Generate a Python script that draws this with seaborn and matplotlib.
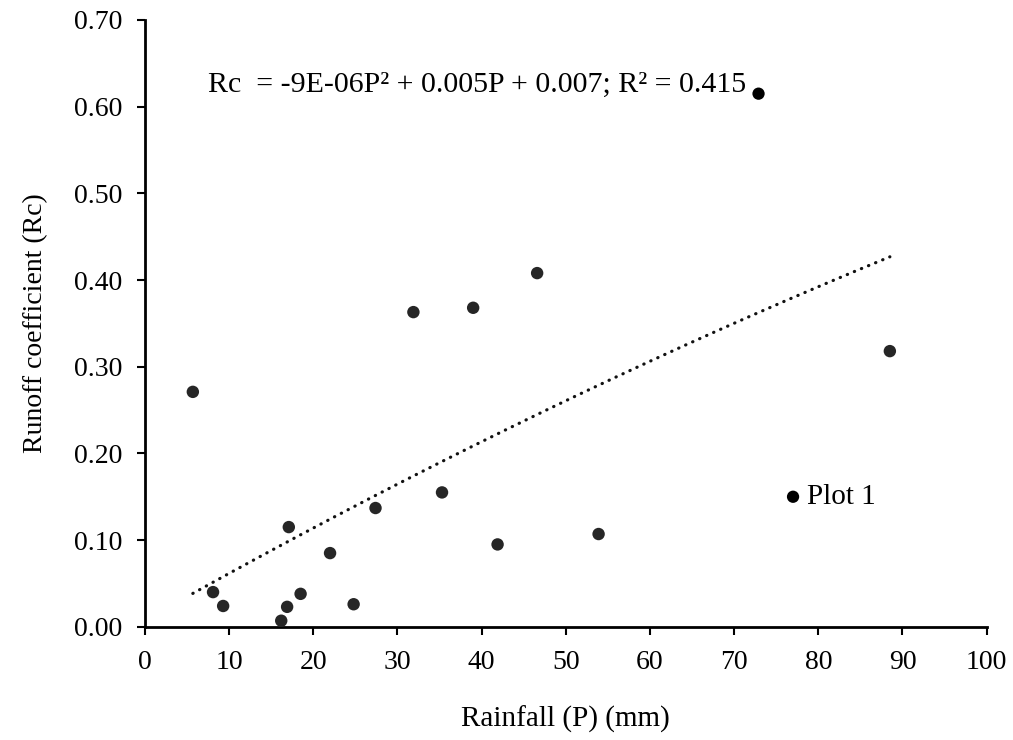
import numpy as np
import pandas as pd
import matplotlib
matplotlib.use("Agg")
import matplotlib.pyplot as plt
import seaborn as sns

# Event rainfall (mm) and runoff coefficient
rainfall = [5.7, 8.1, 9.3, 16.2, 16.9, 17.1, 18.5, 22.0, 24.8, 27.4,
            31.9, 35.3, 39.0, 41.9, 46.6, 53.9, 72.9, 77.0, 88.5]
runoff_coef = [0.271, 0.040, 0.024, 0.007, 0.023, 0.115, 0.038, 0.085, 0.026, 0.137,
               0.363, 0.155, 0.368, 0.095, 0.408, 0.107, 0.615, 0.150, 0.318]

# Polynomial trendline coefficients (P^2, P, constant)
trend_coef = [-8.5e-6, 0.00549, 0.00749]

x_ticks = [0, 10, 20, 30, 40, 50, 60, 70, 80, 90, 100]
y_ticks = [0.0, 0.1, 0.2, 0.3, 0.4, 0.5, 0.6, 0.7]

equation_text = "Rc  = -9E-06P\u00b2 + 0.005P + 0.007; R\u00b2 = 0.415"
plot_label = "Plot 1"
plot_label_index = 17
highlight_index = 16

sns.set_theme(style="ticks")
plt.rcParams["font.family"] = ["Liberation Serif", "DejaVu Serif"]

df = pd.DataFrame({"P": rainfall, "Rc": runoff_coef})

fig = plt.figure(figsize=(10.13, 7.4), dpi=100)
ax = fig.add_axes([0.143, 0.153, 0.831, 0.820])

main = df.drop(index=[highlight_index, plot_label_index])
sns.scatterplot(data=main, x="P", y="Rc", ax=ax, s=80, color="#262626",
                edgecolor="none", zorder=3)
sns.scatterplot(data=df.iloc[[highlight_index, plot_label_index]], x="P", y="Rc",
                ax=ax, s=78, color="#000000", edgecolor="none", zorder=3)

# Second-order polynomial trendline over the observed rainfall range
xs = np.linspace(df["P"].min(), df["P"].max(), 200)
ax.plot(xs, np.polyval(trend_coef, xs), linestyle=(0, (0.1, 2.3)), color="#111111",
        linewidth=2.3, dash_capstyle="round", zorder=2)

ax.text(7.5, 0.625, equation_text, fontsize=21.5, ha="left", va="center", color="black")
ax.text(df["P"][plot_label_index] + 1.7, df["Rc"][plot_label_index], plot_label,
        fontsize=21, ha="left", va="center", color="black")

ax.set_xlim(0, 100)
ax.set_ylim(0, 0.70)
ax.set_xticks(x_ticks)
ax.set_yticks(y_ticks)
ax.set_xticklabels([str(t) for t in x_ticks])
ax.set_yticklabels([f"{t:.2f}" for t in y_ticks])
ax.tick_params(axis="both", labelsize=20, length=5.5, width=1.5, color="black",
               direction="out", pad=11, labelcolor="black")

ax.set_xlabel("Rainfall (P) (mm)", fontsize=21, color="black", labelpad=22)
ax.set_ylabel("Runoff coefficient (Rc)", fontsize=20, color="black", labelpad=18)

sns.despine(ax=ax)
for side in ("left", "bottom"):
    ax.spines[side].set_linewidth(2.0)
    ax.spines[side].set_color("black")

fig.savefig("out.png", dpi=100, facecolor="white")
